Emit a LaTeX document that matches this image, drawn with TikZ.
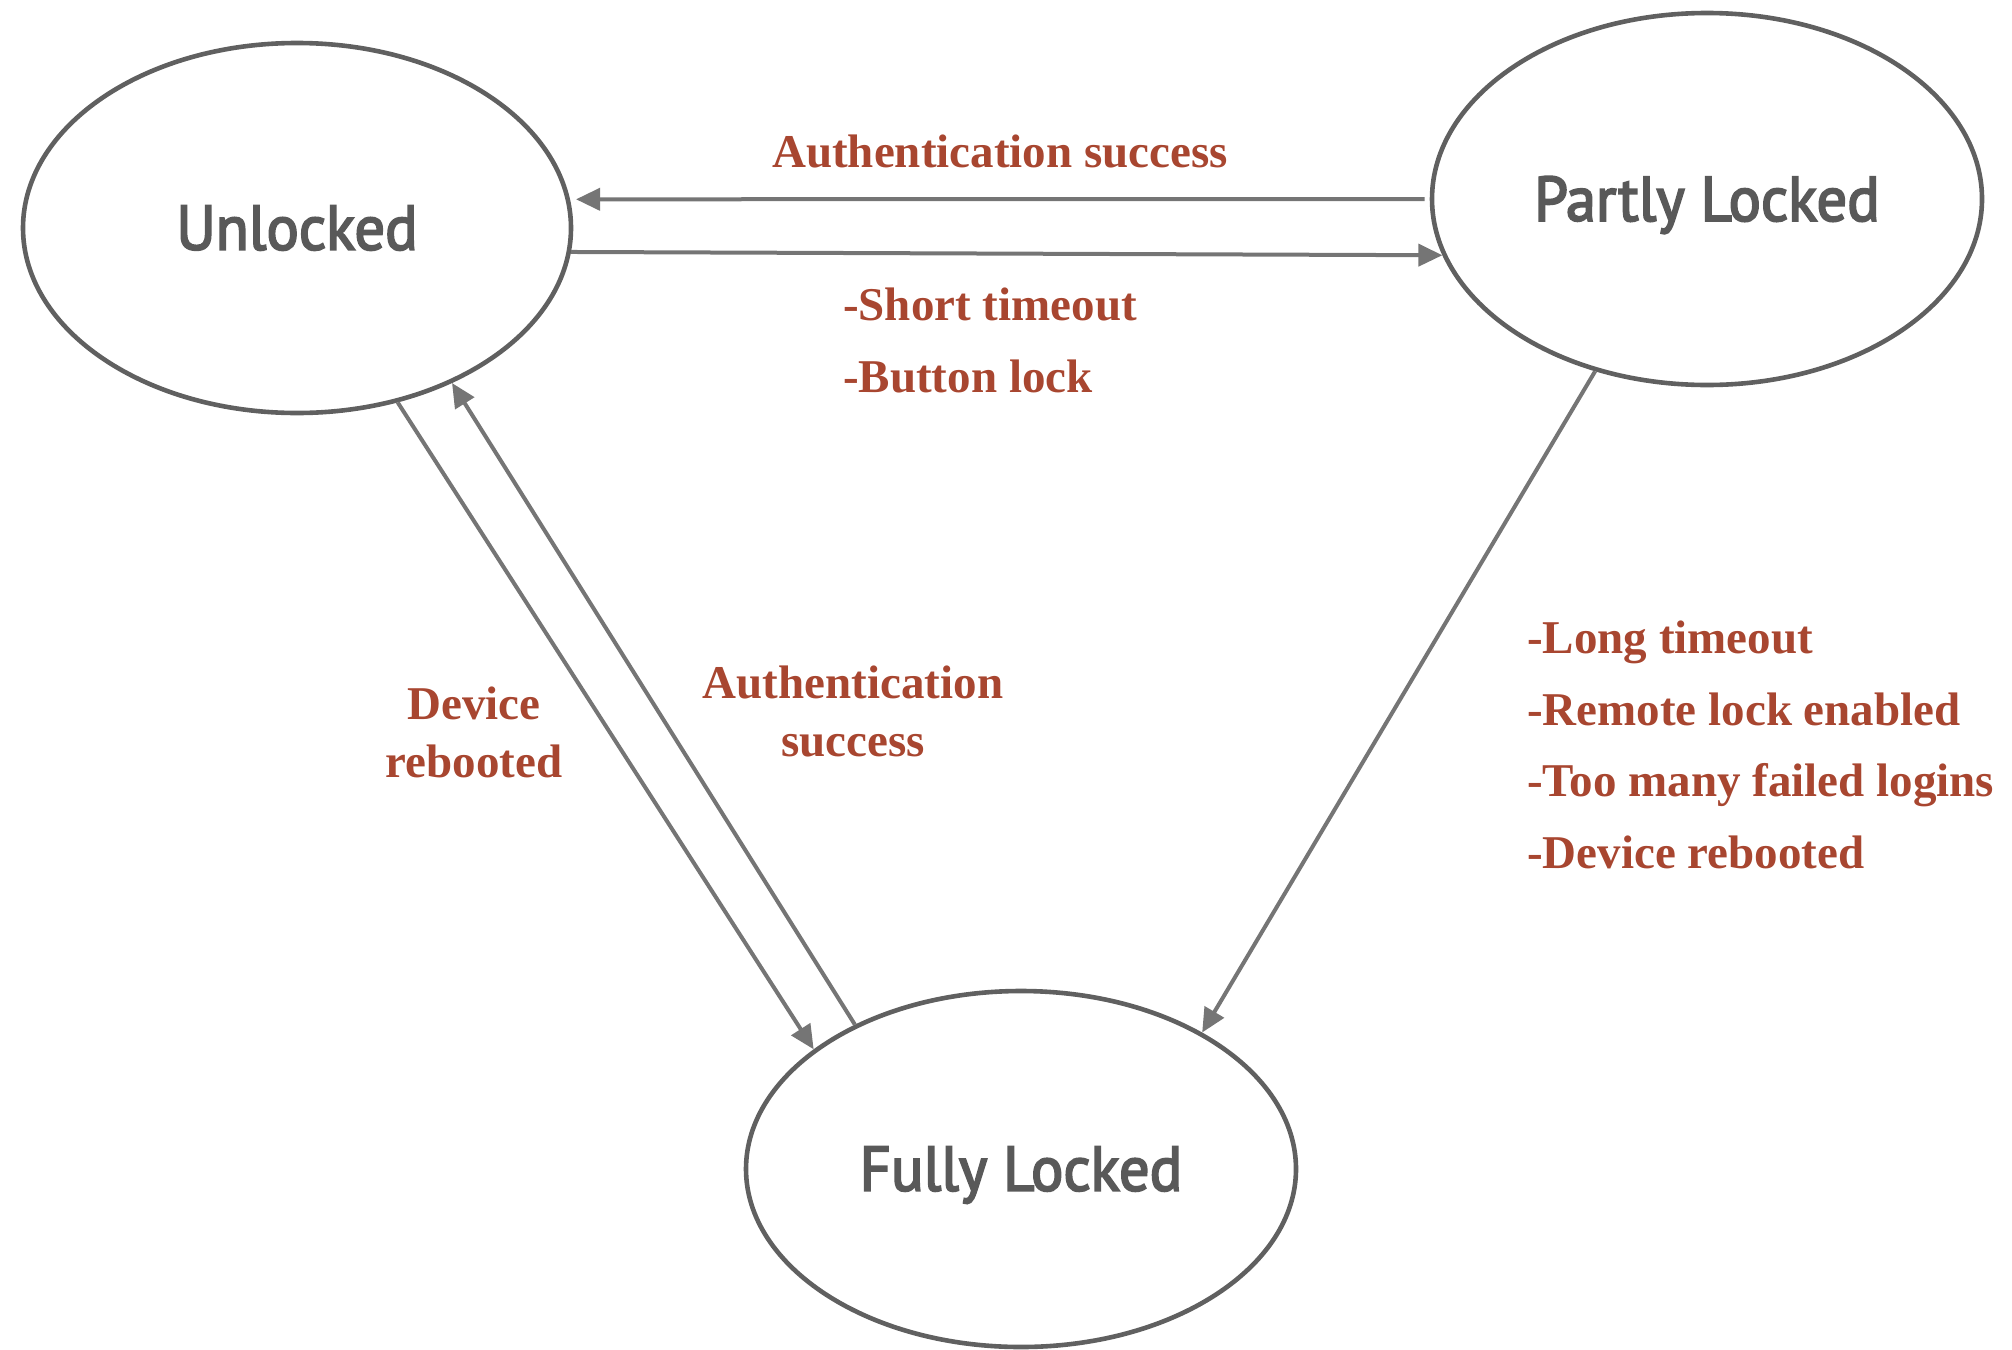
\documentclass[tikz,border=0pt]{standalone}
\usepackage{fontspec}
\setmainfont{Liberation Serif}
\newfontfamily\statefont[FakeStretch=0.96,FakeBold=3]{PT Sans}
\usetikzlibrary{shapes.geometric,arrows.meta}
\definecolor{stateline}{RGB}{96,96,96}
\definecolor{statetext}{RGB}{89,89,89}
\definecolor{arrowgray}{RGB}{117,117,117}
\definecolor{labelred}{RGB}{168,70,48}
\newcommand{\lowertxt}[1]{\raisebox{-6pt}[\height][\depth]{#1}}
\tikzset{
  statenode/.style={ellipse, draw=stateline, line width=4.6pt, inner sep=0pt,
    text=statetext, font=\statefont\fontsize{63}{68}\selectfont},
  conn/.style={draw=arrowgray, line width=4pt,
    -{Triangle[length=24pt,width=22pt]}},
  lbl/.style={text=labelred, font=\bfseries\fontsize{47}{58}\selectfont, inner sep=0pt},
}
\begin{document}
\begin{tikzpicture}[x=1pt,y=-1pt]
\useasboundingbox (0,0) rectangle (2012,1349);
\node[statenode, minimum width=548pt, minimum height=370pt] (U) at (297,228) {Unlocked};
\node[statenode, minimum width=550pt, minimum height=372pt] (P) at (1707,199) {\lowertxt{Partly Locked}};
\node[statenode, minimum width=550pt, minimum height=356pt] (F) at (1021,1169) {\lowertxt{Fully Locked}};

\draw[conn, shorten >=6pt, shorten <=5pt] (P.west) -- (U.6);
\draw[conn] (U.-5.5) -- (P.-168.2);
\draw[conn] (U.-60.5) -- (F.150.4);
\draw[conn] (F.139.5) -- (U.-45.8);
\draw[conn] (P.-123) -- (F.37.1);

\node[lbl] (l1) at (1000,151) {Authentication success};
\node[lbl, anchor=west] (l2) at (843,304) {-Short timeout};
\node[lbl, anchor=west] (l3) at (843,376) {-Button lock};
\node[lbl, align=center] (l4) at (474,732) {Device\\rebooted};
\node[lbl, align=center] (l5) at (853,711) {Authentication\\success};
\node[lbl, anchor=west, align=left, font=\bfseries\fontsize{47}{71.5}\selectfont] (l6) at (1527,745)
  {-Long timeout\\-Remote lock enabled\\-Too many failed logins\\-Device rebooted};
\end{tikzpicture}
\end{document}
